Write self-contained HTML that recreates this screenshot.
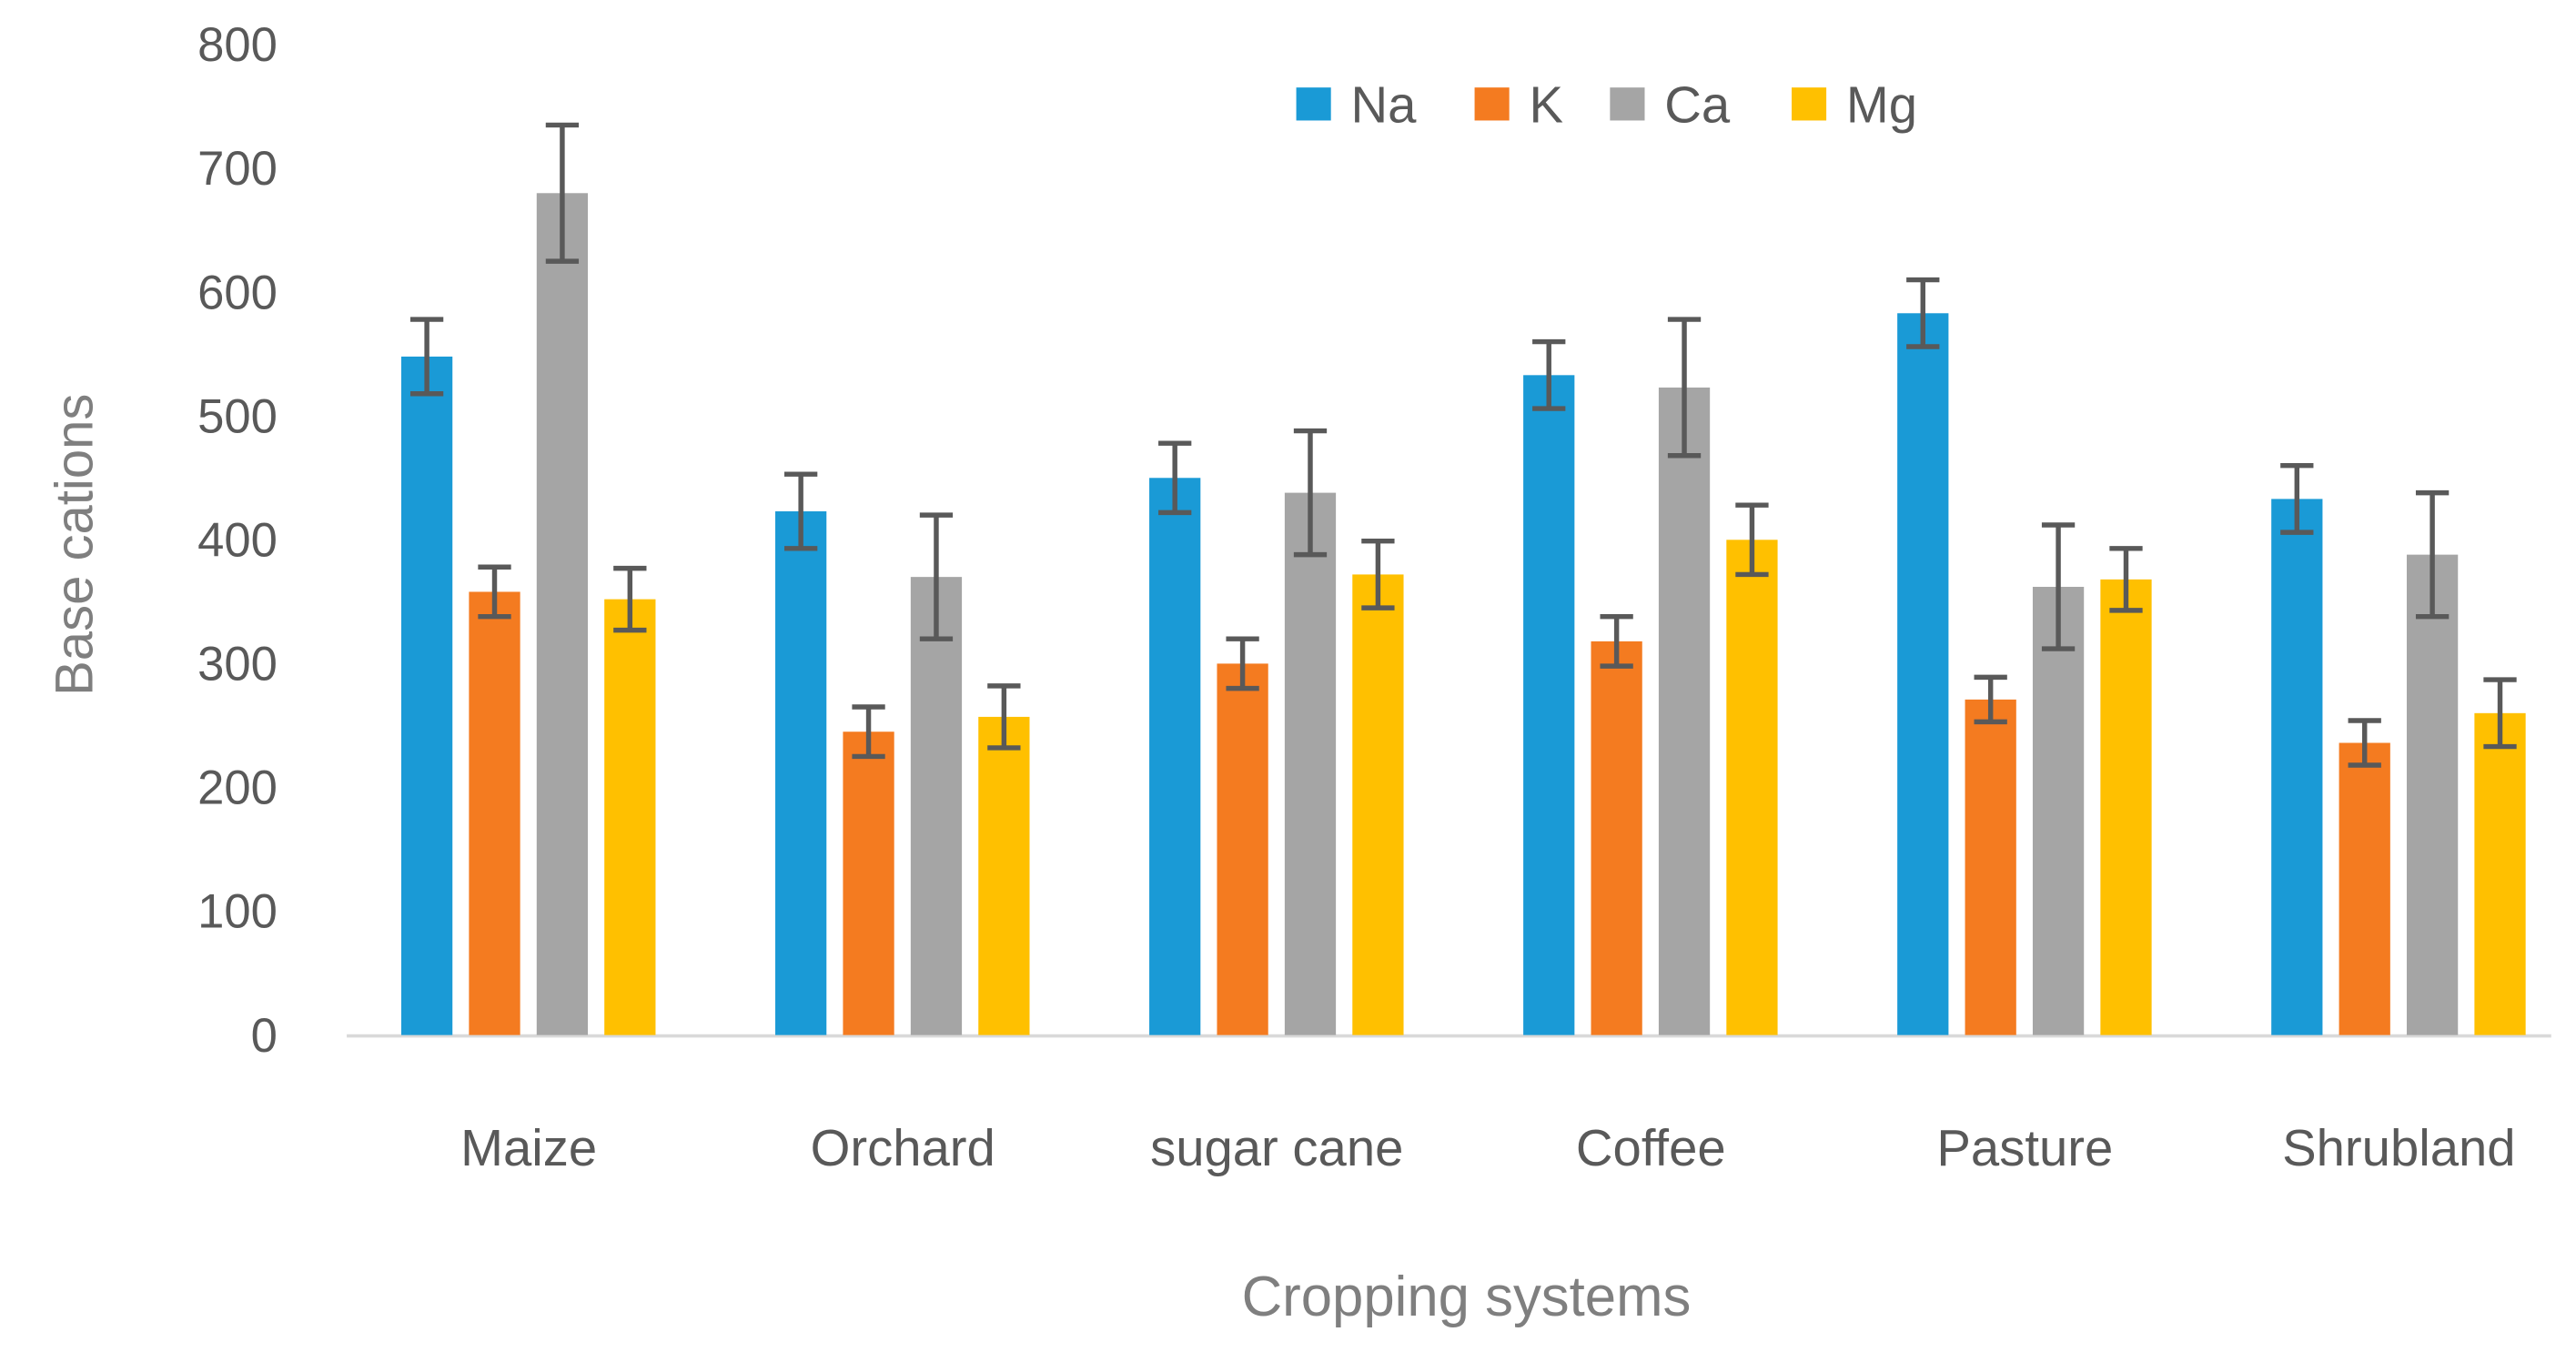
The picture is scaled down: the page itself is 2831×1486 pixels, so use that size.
<!DOCTYPE html>
<html><head><meta charset="utf-8"><style>
html,body{margin:0;padding:0;background:#fff;}
svg{display:block;font-family:"Liberation Sans",sans-serif;}
</style></head><body>
<svg id="chart" width="2831" height="1486" viewBox="0 0 1560 819" preserveAspectRatio="none" xmlns="http://www.w3.org/2000/svg">
<rect width="1560" height="819" fill="#fff"/>
<g id="yticks"></g>
<line x1="210" y1="627.5" x2="1545" y2="627.5" stroke="#d9d9d9" stroke-width="2"/>
<g id="bars"></g>
<g id="xlabels"></g>
<text transform="translate(56,330) rotate(-90)" text-anchor="middle" font-size="32" fill="#7f7f7f">Base cations</text>
<text x="888" y="797" text-anchor="middle" font-size="34" fill="#7f7f7f">Cropping systems</text>
<g id="legend"></g>
</svg>
<script>
const categories=["Maize","Orchard","sugar cane","Coffee","Pasture","Shrubland"];
const seriesNames=["Na","K","Ca","Mg"];
const naValues=[548,423,450,533,583,433];
const kValues=[358,245,300,318,271,236];
const caValues=[680,370,438,523,362,388];
const mgValues=[352,257,372,400,368,260];
const naErr=[30,30,28,27,27,27];
const kErr=[20,20,20,20,18,18];
const caErr=[55,50,50,55,50,50];
const mgErr=[25,25,27,28,25,27];
const yTicks=[0,100,200,300,400,500,600,700,800];
const colors=["#1a9ad6","#f47b20","#a5a5a5","#ffc000"];
const values=[naValues,kValues,caValues,mgValues];
const errs=[naErr,kErr,caErr,mgErr];
const NS="http://www.w3.org/2000/svg";
const y0=627,pxPer=600/800;
function yScale(v){return y0-v*pxPer;}
const xStart=208,band=226.5,barW=31,step=41;
function xBar(ci,si){return xStart+ci*band+35+si*step;}
function mk(tag,attrs,parent){const e=document.createElementNS(NS,tag);for(const k in attrs)e.setAttribute(k,attrs[k]);parent.appendChild(e);return e;}
const yt=document.getElementById('yticks');
yTicks.forEach(t=>{const e=mk('text',{x:168,y:yScale(t)+10,'text-anchor':'end','font-size':29,fill:'#595959'},yt);


e.textContent=t;});
const bg=document.getElementById('bars');
categories.forEach((c,ci)=>{
 values.forEach((vals,si)=>{
  const x=xBar(ci,si),v=vals[ci],er=errs[si][ci];
  const r=mk('rect',{x:x,y:yScale(v),width:barW,height:y0-yScale(v),fill:colors[si]},bg);
  
  
  const cx=x+barW/2,yt1=yScale(v+er),yb=yScale(v-er);
  const g=mk('g',{stroke:'#595959','stroke-width':3},bg);
  
  
  mk('line',{x1:cx,y1:yt1,x2:cx,y2:yb},g);
  mk('line',{x1:cx-10,y1:yt1,x2:cx+10,y2:yt1},g);
  mk('line',{x1:cx-10,y1:yb,x2:cx+10,y2:yb},g);
 });
 const t=mk('text',{x:xStart+ci*band+band/2-1,y:706,'text-anchor':'middle','font-size':31,fill:'#595959'},document.getElementById('xlabels'));
 
 
 t.textContent=c;
});
const lg=document.getElementById('legend');
const lx=[785,893,975,1085];
seriesNames.forEach((n,i)=>{
 const g=mk('g',{},lg);
 
 
 mk('rect',{x:lx[i],y:53,width:21,height:20,fill:colors[i]},g);
 const t=mk('text',{x:lx[i]+33,y:74,'font-size':31,fill:'#595959'},g);
 t.textContent=n;
});
</script>
</body></html>
